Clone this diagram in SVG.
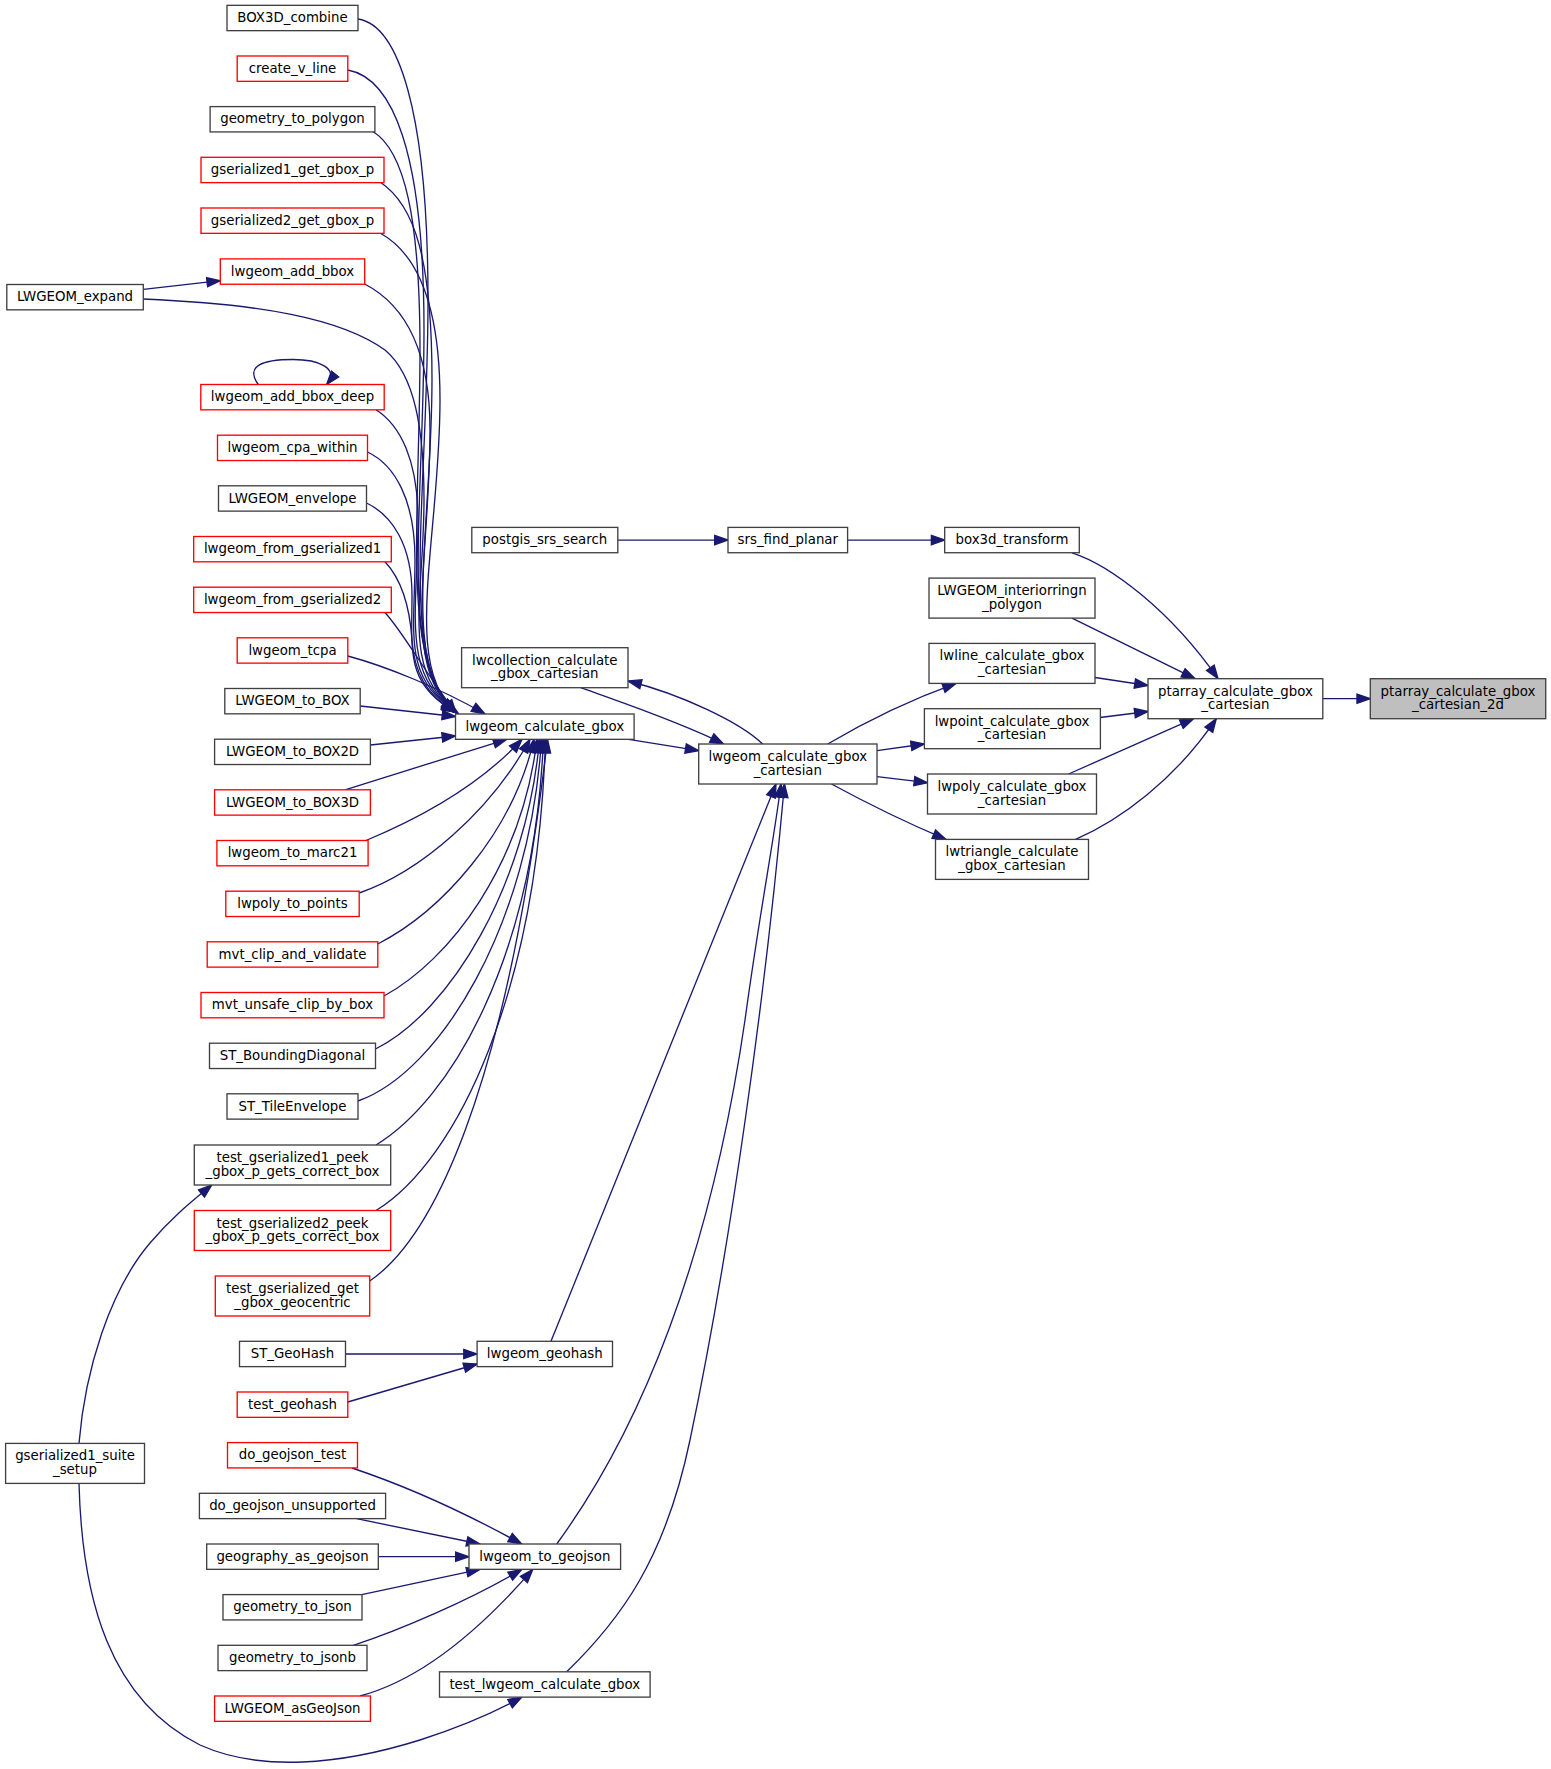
<svg xmlns="http://www.w3.org/2000/svg" width="1551" height="1769" viewBox="0 0 1551 1769">
<style>
.node rect{fill:#ffffff;stroke:#404040;stroke-width:1.33}
.node.red rect{stroke:#ff0000}
.node.root rect{fill:#bfbfbf;stroke:#404040}
.node text{font-family:"DejaVu Sans","Liberation Sans",sans-serif;font-size:13.33px;text-anchor:middle;fill:#000000}
#edges path{fill:none;stroke:#191970;stroke-width:1.33;marker-end:url(#arr)}
</style>
<defs>
<marker id="arr" markerUnits="userSpaceOnUse" markerWidth="16" markerHeight="12" viewBox="-1 -6 16 12" refX="13.33" refY="0" orient="auto">
<path d="M0,-4.67 L13.33,0 L0,4.67 Z" fill="#191970" stroke="#191970" stroke-width="1.33"/>
</marker>
</defs>
<rect x="0" y="0" width="1551" height="1769" fill="#ffffff"/>
<g id="edges">
<path d="M1322.8,698.7 L1370.3,698.7"/>
<path d="M1072,552.8 C1110,565 1170,610 1218,678.7"/>
<path d="M1072,618.1 L1195,678.7"/>
<path d="M1095,677.5 L1148,685.5"/>
<path d="M1100,717.5 L1148,711.5"/>
<path d="M1068.6,774 L1193.5,718.7"/>
<path d="M1075.6,839.4 C1120,820 1175,780 1216.3,718.7"/>
<path d="M847.6,540.1 L944.7,540.1"/>
<path d="M617.8,540.1 L728,540.1"/>
<path d="M628.6,739.3 L698.7,750.7"/>
<path d="M580.8,687.7 C620,702 680,722 723.6,744"/>
<path d="M762.6,744 C740,722 680,694 628,681"/>
<path d="M827.7,744 C865,722 910,700 956,683.4"/>
<path d="M877,750.7 L924.4,744"/>
<path d="M877,776.7 L927.5,782.7"/>
<path d="M831.5,784 C870,805 905,822 946,839.4"/>
<path d="M551,1341.3 L776,784"/>
<path d="M556.7,1544 C640,1430 710,1260 745,1020 C760,910 774,840 781,784"/>
<path d="M566.7,1671.8 C620,1620 665,1560 690,1440 C730,1250 765,1000 784.5,784"/>
<path d="M345.5,1354 L477.1,1354"/>
<path d="M347.8,1402 L477.1,1364"/>
<path d="M352,1468 C400,1484 460,1510 521.7,1544"/>
<path d="M356.7,1518.7 L480,1544"/>
<path d="M378.3,1556.7 L469,1556.7"/>
<path d="M361.7,1594.6 L480,1569.4"/>
<path d="M353.3,1645.3 C400,1630 470,1600 521.7,1569.4"/>
<path d="M360,1696 C420,1680 480,1630 532.7,1569.4"/>
<path d="M79,1443.4 C85,1370 110,1290 150,1243 C175,1214 195,1199 211.7,1185"/>
<path d="M79,1483.4 C82,1600 110,1700 200,1745 C260,1772 340,1765 420,1740 C460,1727 495,1712 521.7,1697.2"/>
<path d="M143.3,289.3 L220.3,280.7"/>
<path d="M258.3,384.5 C245,366 262,359.5 293,359.5 C318,359.5 340,368 326.7,384.5"/>
<path d="M358,19 C398,25 428,110 428,300 C428,500 398,665 455,711"/>
<path d="M347.8,70 C392,78 424,150 424,330 C424,510 398,668 456,712"/>
<path d="M372,131 C405,150 420,220 420,350 C420,520 400,670 457,713"/>
<path d="M380,182 C415,205 432,260 432,380 C432,530 400,668 455,711"/>
<path d="M380,233 C420,255 440,310 440,400 C440,540 400,670 458,713"/>
<path d="M364.7,284 C405,305 430,350 430,430 C430,560 400,672 456,712"/>
<path d="M143.3,299 C260,304 340,318 385,350 C415,375 424,430 424,500 C424,600 400,672 457,713"/>
<path d="M376,409.8 C400,425 418,460 418,520 C418,610 400,675 456,712"/>
<path d="M367.5,452 C395,465 415,500 415,560 C415,630 402,678 455,711"/>
<path d="M366.5,503 C392,515 412,545 412,595 C412,650 405,685 456,712"/>
<path d="M385,561.8 C402,580 410,610 412,640 C414,670 425,695 455,712"/>
<path d="M385,612.5 C405,635 420,665 456,713"/>
<path d="M347.8,656 C385,666 440,688 485,714"/>
<path d="M360.2,706 L455.5,716.5"/>
<path d="M370.4,745 L455.5,736"/>
<path d="M345,789.8 L506.7,739.3"/>
<path d="M366,840.5 C420,818 480,785 522,739.3"/>
<path d="M359.2,893 C420,872 490,812 530,739.3"/>
<path d="M377.8,944 C440,912 512,835 534,739.3"/>
<path d="M384,996 C450,960 522,865 537,739.3"/>
<path d="M375.5,1049 C450,1012 527,885 539.5,739.3"/>
<path d="M358,1101 C440,1072 530,925 541.5,739.3"/>
<path d="M376,1145 C450,1100 534,960 543.5,739.3"/>
<path d="M376,1210.5 C458,1160 538,990 545.5,739.3"/>
<path d="M369.7,1281 C430,1240 505,1100 547.5,739.3"/>
</g>
<g id="n_expand" class="node"><rect x="6.8" y="284.5" width="136.5" height="25.33"/><text x="75" y="301.2">LWGEOM_expand</text></g>
<g id="n_suite" class="node"><rect x="5.6" y="1443.4" width="138.9" height="40"/><text x="75" y="1460.4">gserialized1_suite</text><text x="75" y="1474.1">_setup</text></g>
<g id="n_box3d_combine" class="node"><rect x="227" y="5.33" width="131" height="25.33"/><text x="292.5" y="22">BOX3D_combine</text></g>
<g id="n_create_v_line" class="node red"><rect x="237.2" y="56" width="110.6" height="25.33"/><text x="292.5" y="72.7">create_v_line</text></g>
<g id="n_geometry_to_polygon" class="node"><rect x="210.1" y="106.6" width="164.8" height="25.33"/><text x="292.5" y="123.3">geometry_to_polygon</text></g>
<g id="n_gser1_get" class="node red"><rect x="201" y="157.3" width="183" height="25.33"/><text x="292.5" y="174">gserialized1_get_gbox_p</text></g>
<g id="n_gser2_get" class="node red"><rect x="201" y="208" width="183" height="25.33"/><text x="292.5" y="224.7">gserialized2_get_gbox_p</text></g>
<g id="n_add_bbox" class="node red"><rect x="220.3" y="258.9" width="144.4" height="25.33"/><text x="292.5" y="275.6">lwgeom_add_bbox</text></g>
<g id="n_add_bbox_deep" class="node red"><rect x="200.8" y="384.5" width="183.4" height="25.33"/><text x="292.5" y="401.2">lwgeom_add_bbox_deep</text></g>
<g id="n_cpa_within" class="node red"><rect x="217.5" y="435.2" width="150" height="25.33"/><text x="292.5" y="451.9">lwgeom_cpa_within</text></g>
<g id="n_envelope" class="node"><rect x="218.5" y="485.8" width="148" height="25.33"/><text x="292.5" y="502.5">LWGEOM_envelope</text></g>
<g id="n_from_gser1" class="node red"><rect x="193.7" y="536.5" width="197.6" height="25.33"/><text x="292.5" y="553.2">lwgeom_from_gserialized1</text></g>
<g id="n_from_gser2" class="node red"><rect x="193.7" y="587.2" width="197.6" height="25.33"/><text x="292.5" y="603.9">lwgeom_from_gserialized2</text></g>
<g id="n_tcpa" class="node red"><rect x="237.2" y="637.8" width="110.6" height="25.33"/><text x="292.5" y="654.5">lwgeom_tcpa</text></g>
<g id="n_to_box" class="node"><rect x="224.8" y="688.5" width="135.4" height="25.33"/><text x="292.5" y="705.2">LWGEOM_to_BOX</text></g>
<g id="n_to_box2d" class="node"><rect x="214.6" y="739.2" width="155.8" height="25.33"/><text x="292.5" y="755.9">LWGEOM_to_BOX2D</text></g>
<g id="n_to_box3d" class="node red"><rect x="214.6" y="789.8" width="155.8" height="25.33"/><text x="292.5" y="806.5">LWGEOM_to_BOX3D</text></g>
<g id="n_to_marc21" class="node red"><rect x="216.9" y="840.5" width="151.2" height="25.33"/><text x="292.5" y="857.2">lwgeom_to_marc21</text></g>
<g id="n_lwpoly_to_points" class="node red"><rect x="225.8" y="891.2" width="133.4" height="25.33"/><text x="292.5" y="907.9">lwpoly_to_points</text></g>
<g id="n_mvt_clip" class="node red"><rect x="207.2" y="941.8" width="170.6" height="25.33"/><text x="292.5" y="958.5">mvt_clip_and_validate</text></g>
<g id="n_mvt_unsafe" class="node red"><rect x="201" y="992.5" width="183" height="25.33"/><text x="292.5" y="1009.2">mvt_unsafe_clip_by_box</text></g>
<g id="n_bounding_diag" class="node"><rect x="209.5" y="1043.2" width="166" height="25.33"/><text x="292.5" y="1059.9">ST_BoundingDiagonal</text></g>
<g id="n_tile_envelope" class="node"><rect x="227" y="1093.8" width="131" height="25.33"/><text x="292.5" y="1110.5">ST_TileEnvelope</text></g>
<g id="n_test_gser1_peek" class="node"><rect x="194.3" y="1145" width="196.4" height="40"/><text x="292.5" y="1162">test_gserialized1_peek</text><text x="292.5" y="1175.7">_gbox_p_gets_correct_box</text></g>
<g id="n_test_gser2_peek" class="node red"><rect x="194.3" y="1210.5" width="196.4" height="40"/><text x="292.5" y="1227.5">test_gserialized2_peek</text><text x="292.5" y="1241.2">_gbox_p_gets_correct_box</text></g>
<g id="n_test_geocentric" class="node red"><rect x="215.3" y="1276" width="154.4" height="40"/><text x="292.5" y="1293">test_gserialized_get</text><text x="292.5" y="1306.7">_gbox_geocentric</text></g>
<g id="n_st_geohash" class="node"><rect x="239.5" y="1341.3" width="106" height="25.33"/><text x="292.5" y="1358">ST_GeoHash</text></g>
<g id="n_test_geohash" class="node red"><rect x="237.2" y="1392" width="110.6" height="25.33"/><text x="292.5" y="1408.7">test_geohash</text></g>
<g id="n_do_geojson_test" class="node red"><rect x="227.5" y="1442.6" width="130" height="25.33"/><text x="292.5" y="1459.3">do_geojson_test</text></g>
<g id="n_do_geojson_unsupported" class="node"><rect x="199.4" y="1493.3" width="186.2" height="25.33"/><text x="292.5" y="1510">do_geojson_unsupported</text></g>
<g id="n_geography_as_geojson" class="node"><rect x="206.7" y="1544" width="171.6" height="25.33"/><text x="292.5" y="1560.7">geography_as_geojson</text></g>
<g id="n_geometry_to_json" class="node"><rect x="223" y="1594.6" width="139" height="25.33"/><text x="292.5" y="1611.3">geometry_to_json</text></g>
<g id="n_geometry_to_jsonb" class="node"><rect x="218" y="1645.3" width="149" height="25.33"/><text x="292.5" y="1662">geometry_to_jsonb</text></g>
<g id="n_asgeojson" class="node red"><rect x="214.6" y="1696" width="155.8" height="25.33"/><text x="292.5" y="1712.7">LWGEOM_asGeoJson</text></g>
<g id="n_postgis_srs_search" class="node"><rect x="471.8" y="527.4" width="146" height="25.33"/><text x="544.8" y="544.1">postgis_srs_search</text></g>
<g id="n_lwcollection" class="node"><rect x="461.6" y="647.7" width="166.4" height="40"/><text x="544.8" y="664.7">lwcollection_calculate</text><text x="544.8" y="678.4">_gbox_cartesian</text></g>
<g id="n_lwgeom_calculate_gbox" class="node"><rect x="455.5" y="714" width="178.6" height="25.33"/><text x="544.8" y="730.7">lwgeom_calculate_gbox</text></g>
<g id="n_lwgeom_geohash" class="node"><rect x="477.1" y="1341.3" width="135.4" height="25.33"/><text x="544.8" y="1358">lwgeom_geohash</text></g>
<g id="n_lwgeom_to_geojson" class="node"><rect x="469" y="1544" width="151.6" height="25.33"/><text x="544.8" y="1560.7">lwgeom_to_geojson</text></g>
<g id="n_test_lwgeom_calculate_gbox" class="node"><rect x="439.5" y="1671.8" width="210.6" height="25.33"/><text x="544.8" y="1688.5">test_lwgeom_calculate_gbox</text></g>
<g id="n_srs_find_planar" class="node"><rect x="728" y="527.4" width="119.6" height="25.33"/><text x="787.8" y="544.1">srs_find_planar</text></g>
<g id="n_lwgeom_cart" class="node"><rect x="698.7" y="744" width="178.3" height="40"/><text x="787.8" y="761">lwgeom_calculate_gbox</text><text x="787.8" y="774.7">_cartesian</text></g>
<g id="n_box3d_transform" class="node"><rect x="944.7" y="527.4" width="134.6" height="25.33"/><text x="1012" y="544.1">box3d_transform</text></g>
<g id="n_interiorringn" class="node"><rect x="929" y="578.1" width="166" height="40"/><text x="1012" y="595.1">LWGEOM_interiorringn</text><text x="1012" y="608.8">_polygon</text></g>
<g id="n_lwline" class="node"><rect x="929" y="643.4" width="166" height="40"/><text x="1012" y="660.4">lwline_calculate_gbox</text><text x="1012" y="674.1">_cartesian</text></g>
<g id="n_lwpoint" class="node"><rect x="924.4" y="708.7" width="176" height="40"/><text x="1012" y="725.7">lwpoint_calculate_gbox</text><text x="1012" y="739.4">_cartesian</text></g>
<g id="n_lwpoly" class="node"><rect x="927.5" y="774" width="169" height="40"/><text x="1012" y="791">lwpoly_calculate_gbox</text><text x="1012" y="804.7">_cartesian</text></g>
<g id="n_lwtriangle" class="node"><rect x="935.5" y="839.4" width="153" height="40"/><text x="1012" y="856.4">lwtriangle_calculate</text><text x="1012" y="870.1">_gbox_cartesian</text></g>
<g id="n_ptarray_cart" class="node"><rect x="1148" y="678.7" width="174.8" height="40"/><text x="1235.4" y="695.7">ptarray_calculate_gbox</text><text x="1235.4" y="709.4">_cartesian</text></g>
<g id="n_ptarray_2d" class="node root"><rect x="1370.3" y="678.7" width="175.4" height="40"/><text x="1458" y="695.7">ptarray_calculate_gbox</text><text x="1458" y="709.4">_cartesian_2d</text></g>
</svg>
